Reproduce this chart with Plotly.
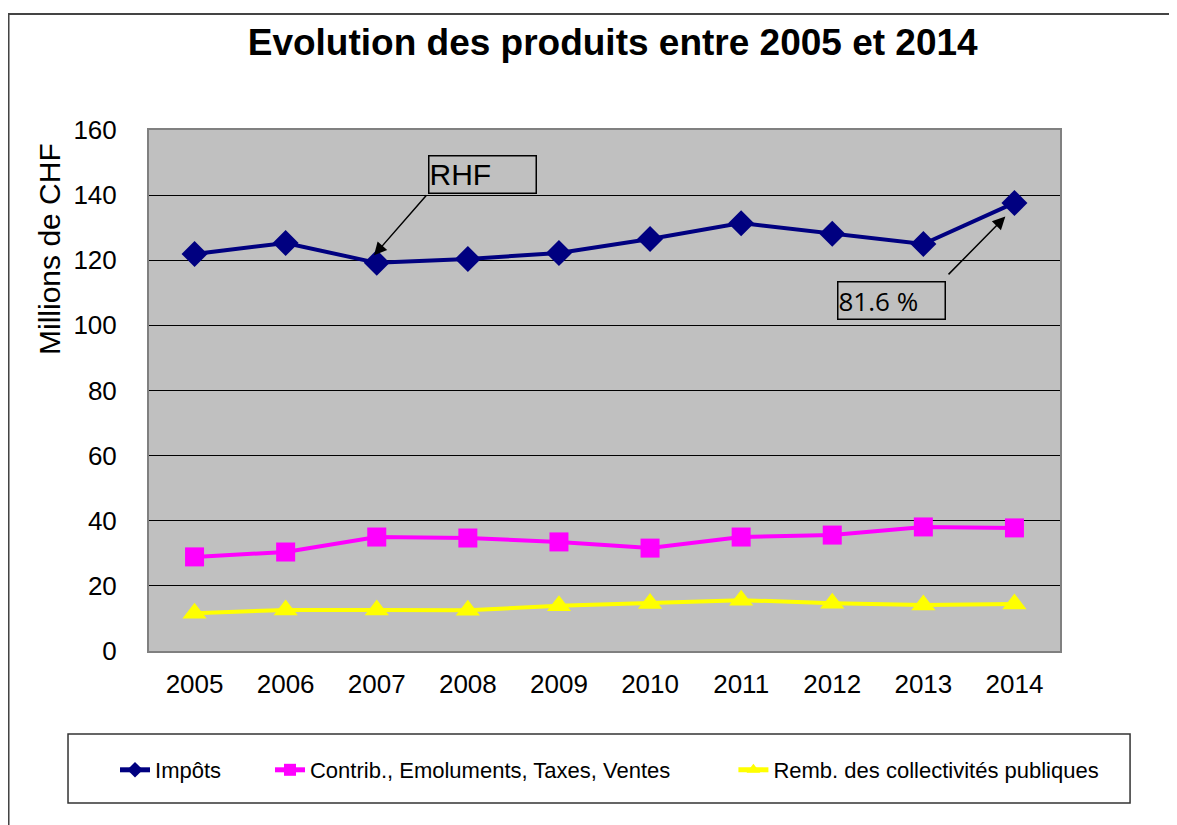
import plotly.graph_objects as go

years = ["2005", "2006", "2007", "2008", "2009", "2010", "2011", "2012", "2013", "2014"]
impots = [121.9, 125.3, 119.2, 120.4, 122.2, 126.5, 131.4, 128.1, 125.0, 137.6]
contrib = [28.9, 30.4, 35.0, 34.7, 33.5, 31.6, 35.0, 35.6, 38.1, 37.8]
remb = [11.6, 12.6, 12.6, 12.5, 13.9, 14.6, 15.6, 14.7, 14.1, 14.4]
y_ticks = [0, 20, 40, 60, 80, 100, 120, 140, 160]

FONT = "Liberation Sans, Arial, sans-serif"

fig = go.Figure()
fig.add_trace(go.Scatter(x=years, y=impots, name="Impôts", mode="lines+markers",
                         legend="legend",
                         line=dict(color="#000080", width=4),
                         marker=dict(symbol="diamond", size=20, color="#000080")))
fig.add_trace(go.Scatter(x=years, y=contrib, name="Contrib., Emoluments, Taxes, Ventes",
                         mode="lines+markers", legend="legend2",
                         line=dict(color="#FF00FF", width=4),
                         marker=dict(symbol="square", size=19, color="#FF00FF")))
fig.add_trace(go.Scatter(x=years, y=remb, name="Remb. des collectivités publiques",
                         mode="lines+markers", legend="legend3",
                         line=dict(color="#FFFF00", width=4),
                         marker=dict(symbol="triangle-up", size=21, color="#FFFF00")))

# Arrows (empty text, tail in data coords)
fig.add_annotation(x=1.97, y=121.5, ax=2.56, ay=140.4, axref="x", ayref="y",
                   text="", showarrow=True, arrowhead=2, arrowsize=1.7,
                   arrowwidth=1.5, arrowcolor="black")
fig.add_annotation(x=8.90, y=133.4, ax=8.26, ay=115.2, axref="x", ayref="y",
                   text="", showarrow=True, arrowhead=2, arrowsize=1.7,
                   arrowwidth=1.5, arrowcolor="black")
# Text boxes
fig.add_annotation(x=3.16, y=146.2, text="RHF", showarrow=False, align="left",
                   width=106, height=36, bordercolor="black", borderwidth=1.5,
                   borderpad=0, font=dict(family=FONT, size=30, color="black"))
fig.add_annotation(x=7.645, y=107.6, text="81.6 %", showarrow=False, align="left",
                   width=106, height=36, bordercolor="black", borderwidth=1.5,
                   borderpad=0, font=dict(family="Open Sans, " + FONT, size=26, color="black"))

# Y axis title
fig.add_annotation(xref="paper", yref="paper", x=-0.1087, y=0.7716,
                   xanchor="center", yanchor="middle",
                   text="Millions de CHF", textangle=-90, showarrow=False,
                   font=dict(family=FONT, size=30, color="black"))

# Outer chart border and legend box
fig.add_shape(type="rect", xref="paper", yref="paper",
              x0=-0.1542, x1=1.2, y0=-0.4, y1=1.2226,
              line=dict(color="#444444", width=2), fillcolor="rgba(0,0,0,0)", layer="below")
fig.add_shape(type="rect", xref="paper", yref="paper",
              x0=-0.0889, x1=1.0769, y0=-0.2917, y1=-0.1593,
              line=dict(color="#333333", width=1.5), fillcolor="rgba(0,0,0,0)")

leg_common = dict(orientation="h", xanchor="left", y=-0.2284, yanchor="middle",
                  font=dict(family=FONT, size=22, color="black"),
                  bgcolor="rgba(0,0,0,0)", itemsizing="constant")

# page has an 8px body margin: figure is shifted by 8px, compensate
fig.update_layout(
    width=1169, height=817,
    margin=dict(l=141, r=117, t=122, b=174, autoexpand=False),
    paper_bgcolor="white", plot_bgcolor="#C0C0C0",
    font=dict(family=FONT, color="black"),
    title=dict(text="<b>Evolution des produits entre 2005 et 2014</b>",
               x=0.509, xref="paper", xanchor="center",
               y=1 - 34 / 817, yref="container", yanchor="middle",
               font=dict(family=FONT, size=37, color="black")),
    showlegend=True,
    legend=dict(x=-0.0373, **leg_common),
    legend2=dict(x=0.1328, **leg_common),
    legend3=dict(x=0.6415, **leg_common),
    xaxis=dict(type="category", range=[-0.5, 9.5], showgrid=False,
               tickfont=dict(family=FONT, size=26, color="black"),
               ticks="", ticklabelstandoff=9,
               showline=True, linecolor="#808080", linewidth=2, mirror=True, zeroline=False),
    yaxis=dict(range=[0, 160], tickvals=y_ticks, showgrid=True, gridcolor="black", gridwidth=1,
               tickfont=dict(family=FONT, size=26, color="black"),
               ticks="", ticklabelstandoff=25,
               showline=True, linecolor="#808080", linewidth=2, mirror=True, zeroline=False),
)

fig.write_html("out.html")
